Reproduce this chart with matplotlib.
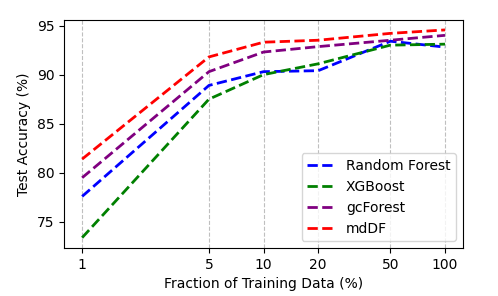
import matplotlib
matplotlib.use('Agg')
import matplotlib.pyplot as plt
from matplotlib.ticker import FixedLocator, NullLocator, FixedFormatter

fractions = [1, 5, 10, 20, 50, 100]
tick_labels = ['1', '5', '10', '20', '50', '100']

random_forest = [77.6, 88.9, 90.3, 90.4, 93.4, 92.8]
xgboost = [73.4, 87.5, 90.0, 91.1, 93.0, 93.1]
gcforest = [79.5, 90.3, 92.3, 92.85, 93.5, 94.0]
mddf = [81.4, 91.8, 93.3, 93.5, 94.2, 94.55]

fig = plt.figure(figsize=(4.98, 2.96), dpi=100)
ax = fig.add_axes([0.1285, 0.162, 0.8015, 0.772])

ax.plot(fractions, random_forest, '--', color='blue', lw=2, label='Random Forest')
ax.plot(fractions, xgboost, '--', color='green', lw=2, label='XGBoost')
ax.plot(fractions, gcforest, '--', color='purple', lw=2, label='gcForest')
ax.plot(fractions, mddf, '--', color='red', lw=2, label='mdDF')

ax.set_xscale('log')
ax.xaxis.set_major_locator(FixedLocator(fractions))
ax.xaxis.set_major_formatter(FixedFormatter(tick_labels))
ax.xaxis.set_minor_locator(NullLocator())
ax.set_yticks([75, 80, 85, 90, 95])
ax.grid(axis='x', linestyle='--', color='#b0b0b0', lw=0.8, alpha=0.8)

ax.set_xlabel('Fraction of Training Data (%)')
ax.set_ylabel('Test Accuracy (%)')
ax.legend(loc='lower right')

fig.savefig('out.png', dpi=100)
